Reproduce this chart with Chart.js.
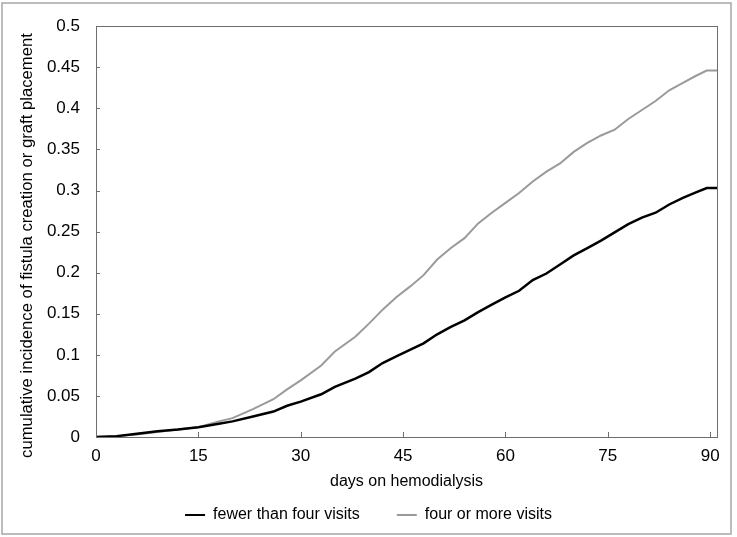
<!DOCTYPE html>
<html>
<head>
<meta charset="utf-8">
<script src="https://cdn.jsdelivr.net/npm/chart.js@4"></script>
<style>
  html, body { margin: 0; padding: 0; background: #fff; }
  #wrap { position: absolute; left: 0; top: 0; width: 737px; height: 537px; }
</style>
</head>
<body>
<div id="wrap"><canvas id="incidenceChart"></canvas></div>
<script>
// dias en hemodialisis
const days = [0, 3, 6, 9, 12, 15, 18, 20, 23, 26, 28, 30, 33, 35, 38, 40, 42, 44, 46, 48, 50,
  52, 54, 56, 58, 60, 62, 64, 66, 68, 70, 72, 74, 76, 78, 80, 82, 84, 86, 88, 89.5, 91];

// incidencia acumulada por grupo
const fewerVisits = [0, 0.001, 0.004, 0.007, 0.009, 0.012, 0.016, 0.019, 0.025, 0.031, 0.038, 0.043,
  0.052, 0.061, 0.071, 0.079, 0.090, 0.098, 0.106, 0.114, 0.125, 0.134, 0.142, 0.152, 0.161, 0.170,
  0.178, 0.191, 0.199, 0.210, 0.221, 0.230, 0.239, 0.249, 0.259, 0.267, 0.273, 0.283, 0.291, 0.298,
  0.303, 0.303];
const fourPlusVisits = [0, 0.001, 0.003, 0.006, 0.009, 0.012, 0.019, 0.023, 0.034, 0.046, 0.058, 0.069,
  0.087, 0.104, 0.122, 0.138, 0.155, 0.170, 0.183, 0.197, 0.216, 0.230, 0.242, 0.260, 0.273, 0.285,
  0.297, 0.311, 0.323, 0.333, 0.347, 0.358, 0.367, 0.374, 0.387, 0.398, 0.409, 0.422, 0.431, 0.440,
  0.446, 0.446];

const seriesNames = ['fewer than four visits', 'four or more visits'];
const xTicks = [0, 15, 30, 45, 60, 75, 90];
const yTicks = [0, 0.05, 0.1, 0.15, 0.2, 0.25, 0.3, 0.35, 0.4, 0.45, 0.5];

const FONT = 'Arial, "Liberation Sans", sans-serif';

// marco exterior, caja del grafico y marcas hacia adentro
const framePlugin = {
  id: 'framePlugin',
  afterDraw(chart) {
    const { ctx, chartArea: a, scales } = chart;
    ctx.save();
    ctx.strokeStyle = '#a6a6a6';
    ctx.lineWidth = 1.5;
    ctx.strokeRect(2, 3, 729, 531);

    ctx.strokeStyle = '#6e6e6e';
    ctx.lineWidth = 1;
    ctx.strokeRect(Math.round(a.left) + 0.5, Math.round(a.top) + 0.5,
      Math.round(a.right - a.left), Math.round(a.bottom - a.top));

    ctx.beginPath();
    xTicks.forEach(v => {
      const px = Math.round(scales.x.getPixelForValue(v)) + 0.5;
      ctx.moveTo(px, a.bottom);
      ctx.lineTo(px, a.bottom - 5);
    });
    yTicks.forEach(v => {
      const py = Math.round(scales.y.getPixelForValue(v)) + 0.5;
      ctx.moveTo(a.left, py);
      ctx.lineTo(a.left + 4, py);
    });
    ctx.stroke();
    ctx.restore();
  }
};

const config = {
  type: 'line',
  data: {
    datasets: [
      {
        label: seriesNames[0],
        data: days.map((d, i) => ({ x: d, y: fewerVisits[i] })),
        borderColor: '#000000',
        backgroundColor: '#000000',
        borderWidth: 2.5
      },
      {
        label: seriesNames[1],
        data: days.map((d, i) => ({ x: d, y: fourPlusVisits[i] })),
        borderColor: '#9a9a9a',
        backgroundColor: '#9a9a9a',
        borderWidth: 2
      }
    ]
  },
  options: {
    responsive: true,
    maintainAspectRatio: false,
    animation: false,
    events: [],
    elements: { point: { radius: 0 }, line: { tension: 0 } },
    layout: { padding: { left: 0, right: 0, top: 17, bottom: 4 } },
    plugins: {
      tooltip: { enabled: false },
      legend: {
        position: 'bottom',
        labels: {
          color: '#000',
          font: { family: FONT, size: 16 },
          boxWidth: 20,
          boxHeight: 2,
          padding: 37,
          generateLabels(chart) {
            return Chart.defaults.plugins.legend.labels.generateLabels(chart)
              .map(item => ({ ...item, lineWidth: 0 }));
          }
        }
      }
    },
    scales: {
      x: {
        type: 'linear',
        min: 0,
        max: 91,
        grid: { display: false, drawTicks: false },
        border: { display: false },
        ticks: {
          stepSize: 15,
          includeBounds: false,
          autoSkip: false,
          maxRotation: 0,
          padding: 9,
          color: '#000',
          font: { family: FONT, size: 17 }
        },
        title: {
          display: true,
          text: 'days on hemodialysis',
          color: '#000',
          font: { family: FONT, size: 16 },
          padding: { top: 0, bottom: -21 }
        },
        afterFit(scale) { scale.height = 33; }
      },
      y: {
        min: 0,
        max: 0.5,
        grid: { display: false, drawTicks: false },
        border: { display: false },
        ticks: {
          stepSize: 0.05,
          padding: 16,
          color: '#000',
          font: { family: FONT, size: 17 },
          callback: v => String(+v.toFixed(2))
        },
        title: {
          display: true,
          // espacios al final para bajar el texto como en la figura
          text: 'cumulative incidence of fistula creation or graft placement      ',
          color: '#000',
          font: { family: FONT, size: 16.7 },
          padding: { top: 17, bottom: 0 }
        },
        afterFit(scale) { scale.width = 96; }
      },
      // margen derecho vacio, asi la leyenda queda centrada en todo el ancho
      yRight: {
        position: 'right',
        grid: { display: false, drawTicks: false },
        border: { display: false },
        ticks: { display: false },
        afterFit(scale) { scale.width = 20; }
      }
    }
  },
  plugins: [framePlugin]
};

new Chart(document.getElementById('incidenceChart'), config);
</script>
</body>
</html>
